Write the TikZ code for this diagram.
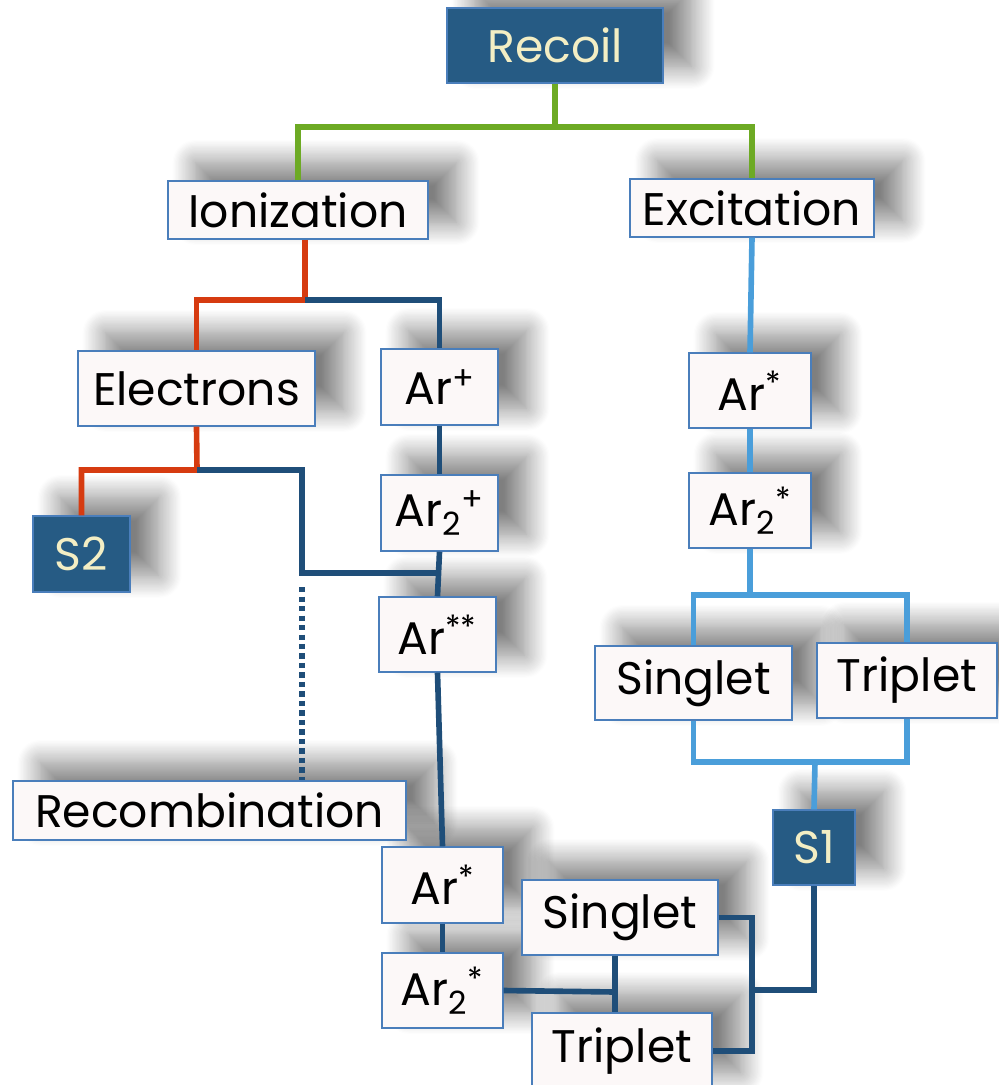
\documentclass[tikz,border=0pt]{standalone}
\usepackage{fontspec}
\setmainfont{Poppins}
\usetikzlibrary{shadows.blur,backgrounds}
\definecolor{xanhdam}{HTML}{265B84}
\definecolor{vien}{HTML}{4A7EBB}
\definecolor{nen}{HTML}{FCF8F8}
\definecolor{kem}{HTML}{F3EEC4}
\definecolor{la}{HTML}{6DAA24}
\definecolor{do}{HTML}{D63B10}
\definecolor{navy}{HTML}{1F4E79}
\definecolor{troi}{HTML}{4A9EDA}
\begin{document}
\begin{tikzpicture}[x=0.02cm,y=-0.02cm,line join=miter]
		\useasboundingbox (0,0) rectangle (998,1085);
		\tikzset{hop/.style 2 args={draw=vien,fill=nen,line width=0.8pt,inner sep=0pt,
			minimum width=#1*0.02cm,minimum height=#2*0.02cm,font=\fontsize{26}{31}\selectfont}}
		\tikzset{hopdam/.style 2 args={hop={#1}{#2},fill=xanhdam,draw=vien,text=kem}}
		\tikzset{bong/.style={blur shadow={shadow xshift=16pt,shadow yshift=10pt,shadow blur radius=13pt,shadow blur steps=20,shadow opacity=50}}}
		\tikzset{dla/.style={draw=la,line width=3.2pt},
			ddo/.style={draw=do,line width=3.2pt},
			dnavy/.style={draw=navy,line width=3.2pt},
			dtroi/.style={draw=troi,line width=3.2pt}}
		\node[hopdam={216}{75}] (recoil) at (555,45.5) {Recoil};
		\node[hop={260}{58}] (ion) at (298,210) {Ionization};
		\node[hop={244}{58}] (exc) at (752,208) {Excitation};
		\node[hop={237}{75}] (elec) at (196.5,388.5) {Electrons};
		\node[hop={117}{76}] (arp) at (439.5,387) {Ar\textsuperscript{+}};
		\node[hop={122}{75}] (arst) at (750,390.5) {Ar\textsuperscript{*}};
		\node[hop={117}{76}] (artwop) at (439.5,513) {Ar\textsubscript{2}\textsuperscript{+}};
		\node[hop={122}{75}] (artwost) at (750,510.5) {Ar\textsubscript{2}\textsuperscript{*}};
		\node[hopdam={97}{76}] (stwo) at (81.5,554) {S2};
		\node[hop={117}{75}] (arss) at (437.5,634.5) {Ar\textsuperscript{**}};
		\node[hop={197}{74}] (sing) at (693.5,683) {Singlet};
		\node[hop={180}{75}] (trip) at (907,680.5) {Triplet};
		\node[hop={393}{59}] (recomb) at (209.5,810.5) {Recombination};
		\node[hopdam={82}{75}] (sone) at (814,847.5) {S1};
		\node[hop={121}{76}] (arstb) at (442.5,885) {Ar\textsuperscript{*}};
		\node[hop={196}{75}] (singb) at (620,917.5) {Singlet};
		\node[hop={121}{75}] (artwostb) at (442.5,990.5) {Ar\textsubscript{2}\textsuperscript{*}};
		\node[hop={180}{76}] (tripb) at (622,1051) {Triplet};
		%bong mo
		\begin{pgfonlayer}{background}
		\foreach \n in {recoil,ion,exc,elec,arp,arst,artwop,artwost,stwo,arss,sing,trip,recomb,sone,arstb,singb,artwostb,tripb}
		\path[bong] (\n.south west) rectangle (\n.north east);
		\end{pgfonlayer}
		\path
		(555,127) coordinate (g1)
		(305,300) coordinate (i1)
		(197,470) coordinate (e1)
		(302,573) coordinate (r1)
		(615,992) coordinate (b1)
		(752,990) coordinate (b2)
		(750,595) coordinate (x1)
		(815,762) coordinate (x2);
		%nhanh chinh
		\draw[dla] (recoil) -- (g1);
		\draw[dla] (ion.north) |- (g1) -| (exc.north);
		%ion hoa
		\draw[ddo] (i1 |- ion.south) -- (i1) -| (elec.north);
		\draw[dnavy] (i1) -| (arp.north);
		\draw[ddo] (elec.south) -- (e1) -| (stwo.north);
		\draw[dnavy] (e1) -| (r1) -- (r1 -| artwop.south);
		\draw[dnavy,dash pattern=on 3pt off 2.4pt] ([yshift=-8pt]r1) -- (r1 |- recomb.north);
		\foreach \a/\b in {arp/artwop,artwop/arss,arss/arstb,arstb/artwostb}
		\draw[dnavy] (\a.south) -- (\b.north);
		\draw[dnavy] (artwostb.east) -- (b1);
		\draw[dnavy] (b1 |- singb.south) -- (b1 |- tripb.north);
		\draw[dnavy] (singb.east) -| (b2) |- (tripb.east);
		\draw[dnavy] (b2) -| (sone.south);
		%kich thich
		\draw[dtroi] (exc.south) -- (arst.north);
		\draw[dtroi] (arst.south) -- (artwost.north);
		\draw[dtroi] (artwost.south) -- (x1);
		\draw[dtroi] (sing.north) |- (x1) -| (trip.north);
		\draw[dtroi] (sing.south) |- (x2) -| (trip.south);
		\draw[dtroi] (x2) -- (sone.north);
	\end{tikzpicture}
\end{document}
